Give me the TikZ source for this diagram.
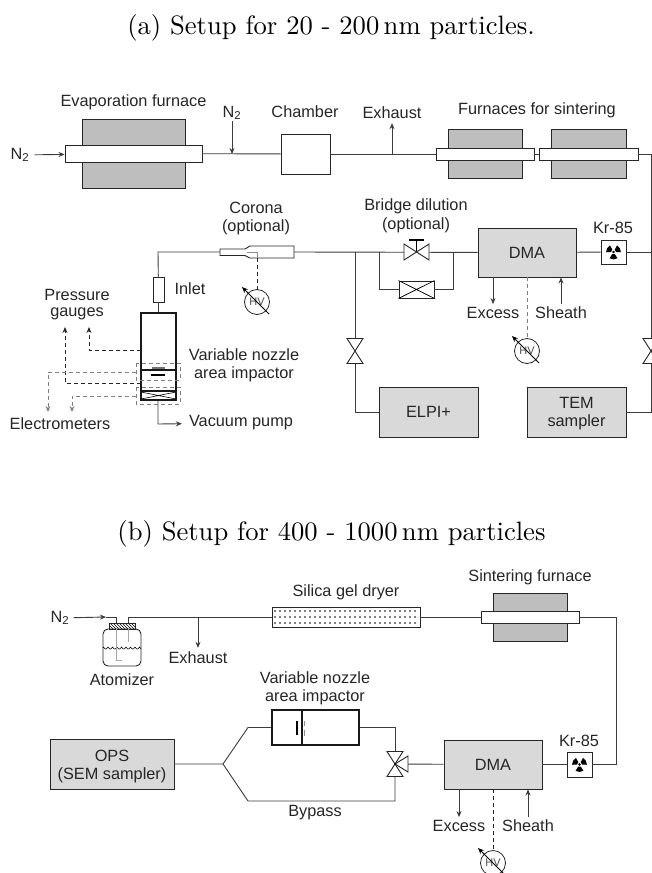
\documentclass[tikz,border=0pt]{standalone}
\usepackage{fontspec}
\usetikzlibrary{arrows.meta,calc,patterns}
\newfontfamily\helv{Liberation Sans}
\definecolor{furngray}{HTML}{BEBEBE}
\definecolor{boxgray}{HTML}{D9D9D9}
\definecolor{linegray}{HTML}{3C3C3C}
\tikzset{
  pipe/.style={draw=linegray,line width=0.9pt},
  lbl/.style={font=\helv\fontsize{16.3}{18}\selectfont,align=center,inner sep=1pt,text=black!85},
  captxt/.style={font=\normalsize,scale=2.66,inner sep=0pt},
  furnace/.style={draw=black!85,fill=furngray,line width=0.9pt,inner sep=0pt},
  tube/.style={draw=black!85,fill=white,line width=0.9pt,inner sep=0pt},
  box/.style={draw=black!85,fill=boxgray,line width=0.9pt,inner sep=0pt,font=\helv\fontsize{16.3}{18}\selectfont,align=center,text=black!85},
  plain/.style={draw=black!85,fill=white,line width=0.9pt,inner sep=0pt},
  wall/.style={draw=black!90,line width=1.9pt},
  sig/.style={draw=black!85,line width=0.9pt,dash pattern=on 4pt off 3pt},
  siggray/.style={draw=black!50,line width=0.9pt,dash pattern=on 4pt off 3pt},
  hv/.style={circle,draw=black!85,fill=white,line width=0.8pt,minimum size=25pt,inner sep=0pt,font=\helv\fontsize{11}{12}\selectfont,text=black!70},
}
\newcommand{\hvslash}[1]{\draw[->,line width=0.9pt] ($(#1)+(12,12)$) -- ($(#1)+(-15,-15)$);}
\newcommand{\valveV}[1]{\draw[plain,shift={(#1)}] (-8,-12.5) -- (8,-12.5) -- (-8,12.5) -- (8,12.5) -- cycle;}
\newcommand{\valveH}[1]{\draw[plain,shift={(#1)}] (-12.5,-8) -- (-12.5,8) -- (12.5,-8) -- (12.5,8) -- cycle;}
\newcommand{\crossbox}[1]{\draw[line width=0.7pt] (#1.north west) -- (#1.south east) (#1.north east) -- (#1.south west);}
\newcommand{\trefoil}[1]{\begin{scope}[shift={(#1)}]
  \foreach \a in {-30,-150,90} {\fill[black] (\a-32:2.6) -- (\a-32:7.4) arc[start angle=\a-32,end angle=\a+32,radius=7.4] -- (\a+32:2.6) -- cycle;}
  \fill[black] (0,0) circle (1.3);
\end{scope}}
\begin{document}
\begin{tikzpicture}[x=1pt,y=-1pt,>={Stealth[length=6pt,width=5pt]}]
\clip (0,0) rectangle (652,873);
\fill[white] (0,0) rectangle (652,873);
\node[captxt] (capA) at (331,27.5) {(a) Setup for 20 - 200\,nm particles.};
\node[captxt] (capB) at (331.5,533.5) {(b) Setup for 400 - 1000\,nm particles};
% setup a, top row
\node[furnace,minimum width=103pt,minimum height=69pt] (furnEvap) at (133.5,153.5) {};
\node[tube,minimum width=137pt,minimum height=17pt] (tubeEvap) at (133.5,153.5) {};
\node[plain,minimum width=49pt,minimum height=40pt] (chamber) at (305.5,154) {};
\node[furnace,minimum width=74pt,minimum height=49pt] (furnSintA) at (485,153.5) {};
\node[tube,minimum width=98pt,minimum height=12pt] (tubeSintA) at (485,154) {};
\node[furnace,minimum width=75pt,minimum height=49pt] (furnSintB) at (588.5,153.5) {};
\node[tube,minimum width=99pt,minimum height=12pt] (tubeSintB) at (588.5,154) {};
\node[lbl] (lblEvap) at (133.5,102) {Evaporation furnace};
\node[lbl] (nInA) at (20,155) {N\textsubscript{2}};
\node[lbl] (nInB) at (232,113) {N\textsubscript{2}};
\node[lbl] (lblChamber) at (305,112) {Chamber};
\node[lbl] (exhA) at (392,113) {Exhaust};
\node[lbl] (lblSint) at (537,110) {Furnaces for sintering};
\coordinate (nJoin) at (232,154);
\coordinate (exJoin) at (392,154);
\coordinate (rightTop) at (651,154);
\draw[pipe,->,shorten <=4pt] (nInA) -- (tubeEvap);
\draw[pipe,->] (nInB) -- (nJoin);
\draw[pipe] (tubeEvap) -- (chamber);
\draw[pipe] (chamber) -- (tubeSintA);
\draw[pipe,->,shorten >=3pt] (exJoin) -- (exhA);
\draw[pipe] (tubeSintA) -- (tubeSintB);
% setup a, middle row
\node[box,minimum width=98pt,minimum height=49pt] (dmaA) at (527,252.5) {DMA};
\node[plain,minimum width=25pt,minimum height=24pt] (krA) at (613.5,252) {};
\trefoil{krA}
\node[lbl] (lblKrA) at (613,228) {Kr-85};
\node[box,minimum width=99pt,minimum height=50pt] (elpi) at (428.5,412) {ELPI+};
\node[box,minimum width=99pt,minimum height=50pt] (tem) at (576.5,412) {};
\node[lbl] (lblTem) at (576.5,414) {TEM\\sampler};
\node[plain,minimum width=35pt,minimum height=17pt] (bridgeBox) at (416.5,289.5) {};
\crossbox{bridgeBox}
\node[lbl] (lblCorona) at (256,218) {Corona\\(optional)};
\node[lbl] (lblBridge) at (416,216) {Bridge dilution\\[1pt](optional)};
\node[lbl] (lblExcessA) at (493,313) {Excess};
\node[lbl] (lblSheathA) at (561,313) {Sheath};
\node[hv] (hvA) at (257,302) {HV};
\node[hv] (hvB) at (527,351) {HV};
\coordinate (coronaIn) at (220,252);
\coordinate (coronaOut) at (294,252);
\coordinate (coronaTap) at (257,258);
\coordinate (lineCorner) at (158,252);
\coordinate (elpiJoin) at (355,252);
\coordinate (brL) at (379,252);
\coordinate (brR) at (453,252);
\coordinate (valveMid) at (416.5,252);
\coordinate (valveElpi) at (355,351);
\coordinate (valveTem) at (651,351);
\draw[pipe] (coronaOut) -- (dmaA);
\draw[pipe] (brL) |- (bridgeBox);
\draw[pipe] (brR) |- (bridgeBox);
\draw[pipe] (elpiJoin) |- (elpi);
\draw[pipe] (rightTop) |- (tem);
\draw[pipe] (tubeSintB) -- (rightTop);
\draw[pipe] (dmaA) -- (krA);
\draw[pipe] (krA) -- (krA -| rightTop);
\draw[pipe,->,shorten >=2pt] (dmaA.south -| lblExcessA) -- (lblExcessA);
\draw[pipe,->,shorten <=2pt] (lblSheathA) -- (dmaA.south -| lblSheathA);
\draw[siggray] (dmaA) -- (hvB);
\draw[line width=1.4pt] (valveMid) -- ++(0,-12);
\draw[line width=1.4pt] (409,240) -- (424,240);
\valveH{valveMid}
\valveV{valveElpi}
\valveV{valveTem}
\hvslash{hvA}
\hvslash{hvB}
% corona tube
\draw[plain] (coronaIn) -- (220,249) -- (245,249) -- (250,246) -- (294,246) -- (294,258) -- (250,258) -- (245,255.5) -- (220,255.5) -- cycle;
\draw[draw=black!45,line width=0.8pt] (247,252) -| (coronaTap);
\draw[sig] (coronaTap) -- (hvA);
% impactor a
\node[plain,minimum width=11pt,minimum height=25pt] (inlet) at (158.5,289.5) {};
\node[wall,fill=white,minimum width=35pt,minimum height=87pt,inner sep=0pt] (impA) at (158.5,356.5) {};
\node[lbl] (lblInlet) at (190,289) {Inlet};
\node[lbl] (lblPress) at (77,305) {Pressure\\[-2pt]gauges};
\node[lbl] (lblElec) at (60,424) {Electrometers};
\node[lbl] (lblImpA) at (244,365) {Variable nozzle\\area impactor};
\node[lbl] (lblVac) at (241,423) {Vacuum pump};
\coordinate (vacCorner) at (158,424);
\draw[pipe] (coronaIn) -- (lineCorner) -- (inlet);
\draw[pipe] (inlet) -- (impA);
\draw[pipe,->,shorten >=6pt] (impA.south -| vacCorner) -- (vacCorner) -- (lblVac);
\draw[wall] (141,370) -- (176,370) (141,391) -- (176,391);
\draw[line width=1.4pt] (151,375) -- (165,375);
\draw[draw=black!55,line width=1.4pt] (152,368) -- (165,368);
\draw[line width=0.6pt] (141,392) -- (176,399) (176,392) -- (141,399);
\draw[siggray] (136,363) rectangle (180,380);
\draw[siggray] (136,387) rectangle (180,404);
\coordinate (gaugeA) at (141,350);
\coordinate (gaugeB) at (141,383);
\coordinate (elecA) at (136,372);
\coordinate (elecB) at (136,396);
\draw[sig,->] (gaugeA) -| (89,327);
\draw[sig,->] (gaugeB) -| (65,327);
\draw[siggray,->] (elecA) -| (48,412);
\draw[siggray,->] (elecB) -| (72,412);
% setup b, top row
\node[plain,minimum width=148pt,minimum height=20pt] (dryer) at (346,617) {};
\foreach \i in {0,...,28} \foreach \j in {0,1,2} \fill[black] (275+5*\i,611+6*\j) circle (0.9);
\node[furnace,minimum width=74pt,minimum height=48pt] (furnC) at (530,617) {};
\node[tube,minimum width=98pt,minimum height=12pt] (tubeC) at (530,617) {};
\node[lbl] (lblDryer) at (346,592) {Silica gel dryer};
\node[lbl] (lblSintC) at (530,577) {Sintering furnace};
\node[lbl] (nInC) at (60,618) {N\textsubscript{2}};
\node[lbl] (exhB) at (198,658) {Exhaust};
\node[lbl] (lblAtom) at (122,680) {Atomizer};
\coordinate (atomTip) at (106,617);
\coordinate (atomIn) at (116,617);
\coordinate (atomOut) at (128,617);
\coordinate (exbJoin) at (198,617);
\coordinate (rightB) at (616,617);
\draw[pipe,->,shorten <=3pt] (nInC) -- (atomTip);
\draw[pipe] (atomTip) -- (atomIn) -- (116,623);
\draw[pipe] (128,623) -- (atomOut) -- (dryer);
\draw[pipe,->,shorten >=3pt] (exbJoin) -- (exhB);
\draw[pipe] (dryer) -- (tubeC);
% atomizer
\draw[plain,rounded corners=5pt] (103,629) rectangle (141,666);
\draw[draw=black!85,line width=0.8pt,pattern=north west lines] (109,623) rectangle (135,629);
\draw[line width=0.6pt,domain=103:141,samples=130] plot (\x,{647+2*abs(sin(40*\x))});
\draw[draw=black!35,line width=0.8pt] (116,629) -- (116,660) -- (122,660);
\draw[draw=black!35,line width=0.8pt] (128,629) -- (128,642);
% setup b, lower row
\node[box,minimum width=98pt,minimum height=49pt] (dmaB) at (493,764.5) {DMA};
\node[plain,minimum width=25pt,minimum height=25pt] (krB) at (579.5,764.5) {};
\trefoil{krB}
\node[lbl] (lblKrB) at (579,741) {Kr-85};
\node[lbl] (lblExcessB) at (459,826) {Excess};
\node[lbl] (lblSheathB) at (528,826) {Sheath};
\node[hv] (hvC) at (493,863) {HV};
\node[box,minimum width=124pt,minimum height=50pt] (ops) at (112,764) {};
\node[lbl] (lblOps) at (112,766) {OPS\\(SEM sampler)};
\node[wall,fill=white,minimum width=87pt,minimum height=35pt,inner sep=0pt] (impB) at (315.5,727.5) {};
\node[lbl] (lblImpB) at (315,688) {Variable nozzle\\area impactor};
\node[lbl] (lblBypass) at (315,813) {Bypass};
\coordinate (threeWay) at (395,764);
\coordinate (forkTip) at (223,764);
\coordinate (forkUp) at (248,727.5);
\coordinate (forkDown) at (248,801);
\coordinate (wayUp) at (395,727.5);
\coordinate (wayDown) at (395,801);
\draw[pipe] (tubeC) -- (rightB) |- (krB);
\draw[pipe] (krB) -- (dmaB);
\draw[pipe] (dmaB) -- (threeWay);
\draw[pipe] (ops) -- (forkTip) -- (forkUp) -- (impB);
\draw[pipe] (forkTip) -- (forkDown) -- (wayDown) -- (threeWay);
\draw[pipe] (impB) -- (wayUp) -- (threeWay);
\draw[pipe,->,shorten >=2pt] (dmaB.south -| lblExcessB) -- (lblExcessB);
\draw[pipe,->,shorten <=2pt] (lblSheathB) -- (dmaB.south -| lblSheathB);
\draw[sig] (dmaB) -- (hvC);
\hvslash{hvC}
\draw[plain] (threeWay) -- (408,756) -- (408,772) -- cycle;
\valveV{threeWay}
\fill[black] (threeWay) circle (1);
\draw[wall] (302,710) -- (302,745);
\draw[line width=1.4pt] (297,721) -- (297,735);
\draw[draw=black!45,line width=1.2pt] (304.5,721) -- (304.5,726) (304.5,730) -- (304.5,736);
\end{tikzpicture}
\end{document}
